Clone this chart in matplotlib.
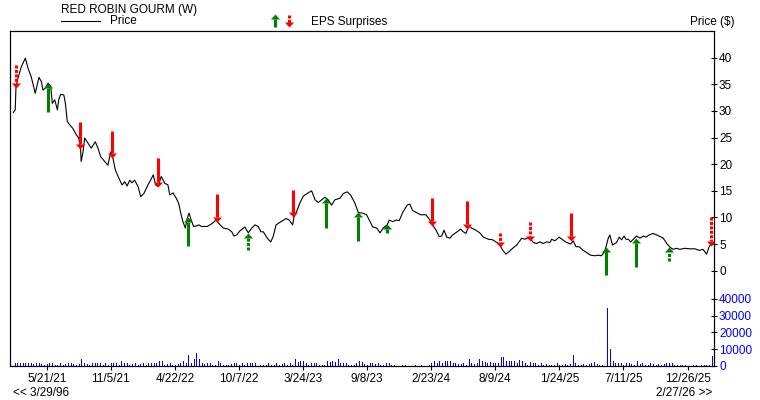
import matplotlib.pyplot as plt
import matplotlib.dates as mdates
from matplotlib.ticker import FixedLocator, FuncFormatter
import numpy as np
import pandas as pd

plt.rcParams['font.family'] = ['Liberation Sans', 'DejaVu Sans']
plt.rcParams['font.size'] = 8.5

# weekly closes, weeks counted from the first bar (Fri 2021-02-19)
start = pd.Timestamp('2021-02-19')
price_wk = [0.5, 1.2, 1.5, 2.2, 3.5, 5.0, 6.0, 7.2, 8.7, 10.1, 11.0, 11.6, 12.5, 13.5, 14.5,
            15.1, 16.0, 17.0, 17.5, 18.2, 19.4, 20.0, 20.7, 21.6, 22.8, 24.1, 25.0, 25.7, 25.9,
            26.6, 27.2, 28.5, 29.7, 31.2, 32.2, 33.2, 34.7, 35.9, 37.0, 37.8, 38.7, 40.0, 41.2,
            42.2, 43.1, 44.1, 44.9, 45.9, 47.2, 48.2, 49.4, 50.9, 51.9, 52.9, 53.8, 54.7, 55.9,
            57.2, 58.4, 59.1, 60.3, 61.5, 62.4, 63.2, 64.0, 64.9, 65.6, 66.3, 67.1, 68.0, 69.0,
            70.0, 70.9, 73.1, 74.8, 76.4, 77.9, 79.1, 81.0, 82.3, 83.1, 84.1, 85.4, 87.2, 88.5,
            89.8, 91.0, 92.2, 93.2, 94.1, 95.6, 96.9, 97.8, 98.9, 100.1, 101.4, 102.6, 103.8,
            105.1, 105.6, 106.6, 107.8, 109.1, 110.6, 112.2, 113.5, 114.7, 116.0, 117.2, 118.4,
            119.7, 120.9, 122.8, 124.1, 125.6, 126.8, 128.4, 129.7, 131.3, 132.8, 133.8, 135.1,
            136.6, 137.8, 139.0, 140.5, 141.3, 142.6, 143.8, 145.0, 146.5, 148.0, 149.0, 150.0,
            151.5, 153.0, 155.0, 156.5, 157.5, 158.8, 160.0, 160.9, 161.8, 162.8, 164.0, 165.0,
            166.7, 168.0, 169.0, 170.0, 171.1, 172.1, 173.7, 175.2, 176.5, 178.4, 180.0, 181.5,
            182.7, 183.7, 185.0, 186.2, 187.5, 189.0, 190.9, 192.1, 193.7, 195.2, 196.4, 197.7,
            198.9, 200.2, 201.5, 202.1, 203.3, 204.9, 206.2, 207.7, 209.2, 210.2, 211.2, 212.4,
            213.7, 215.2, 216.7, 218.3, 219.5, 220.8, 222.1, 223.3, 223.9, 224.9, 226.4, 227.4,
            228.3, 229.2, 229.9, 230.8, 231.7, 232.7, 233.9, 235.2, 236.4, 237.4, 238.6, 240.1,
            241.4, 242.7, 243.9, 245.2, 246.4, 247.6, 248.9, 250.1, 252.0, 253.9, 255.8, 257.4,
            258.8, 260.1, 261.1, 262.0]
price = [29.7, 30.2, 34.6, 36.1, 38.3, 39.9, 38.0, 36.4, 33.3, 36.3, 35.5, 33.9, 34.3, 35.2, 34.6,
         31.4, 32.1, 30.2, 32.1, 33.1, 33.0, 31.4, 28.0, 27.4, 26.7, 25.5, 24.9, 22.7, 20.5,
         22.3, 24.9, 23.9, 23.0, 24.2, 23.0, 21.4, 20.5, 19.8, 22.3, 21.1, 18.9, 17.4, 16.1,
         16.7, 15.9, 17.0, 16.5, 17.0, 15.8, 13.9, 14.5, 16.1, 17.0, 18.0, 16.1, 15.8, 17.7,
         16.4, 16.1, 14.2, 14.6, 13.6, 12.7, 10.8, 9.2, 8.0, 9.8, 10.8, 9.5, 8.3, 8.4,
         8.6, 8.3, 8.3, 8.8, 9.5, 8.6, 8.0, 7.8, 7.3, 6.5, 6.7, 7.5, 8.2, 7.1,
         8.0, 8.6, 8.3, 7.3, 7.3, 6.1, 5.4, 6.4, 8.6, 9.0, 9.4, 9.8, 9.5,
         8.6, 10.1, 11.1, 12.7, 14.0, 14.5, 15.0, 13.3, 12.8, 13.3, 13.8, 13.3,
         12.3, 13.3, 13.6, 14.5, 14.8, 14.2, 12.7, 10.9, 10.8, 10.5, 9.5, 8.2,
         8.0, 7.1, 8.0, 8.6, 9.5, 9.2, 9.5, 9.4, 11.1, 12.3, 12.5, 11.3,
         10.9, 10.5, 10.5, 9.5, 8.6, 7.6, 6.4, 6.5, 7.6, 6.3, 6.1, 6.7,
         7.3, 7.8, 7.3, 7.0, 8.4, 8.0, 7.6, 7.1, 6.3, 5.9, 5.8, 5.3,
         4.8, 3.9, 3.1, 3.6, 4.2, 4.8, 6.1, 5.9, 6.3, 5.3, 5.1, 5.4,
         5.1, 5.4, 5.3, 5.9, 5.6, 6.3, 5.8, 5.3, 5.0, 5.6, 4.5, 4.5,
         3.9, 3.4, 2.9, 2.8, 2.9, 2.8, 3.8, 6.1, 6.7, 4.8, 5.3, 6.3,
         5.8, 6.5, 5.9, 5.9, 5.4, 5.9, 6.5, 6.1, 6.5, 6.3, 6.7, 7.0,
         6.7, 6.4, 6.1, 5.1, 4.4, 4.0, 4.2, 4.0, 4.2, 4.1, 4.1, 3.8,
         4.0, 3.1, 4.5, 5.1]

# weekly volume, one value per week starting at week 0
volume = [0,
          1600, 2000, 1600, 2000, 1600, 1600, 1600, 1200, 1600, 1600,
          1200, 800, 1200, 2000, 1600, 800, 800, 1600, 800, 1200,
          1600, 2000, 1200, 800, 1200, 4000, 2000, 1200, 800, 1600,
          1600, 1600, 1600, 800, 1600, 800, 2000, 2000, 2000, 800,
          2800, 1600, 2000, 800, 1200, 1600, 800, 1200, 2000, 800,
          1600, 2000, 2000, 2000, 3200, 2800, 800, 1200, 1600, 800,
          800, 1200, 2000, 2800, 2000, 6300, 2000, 4000, 7500, 4000,
          2000, 1200, 2000, 1600, 800, 800, 3200, 1600, 800, 800,
          800, 1200, 1600, 1600, 800, 1600, 800, 1600, 1600, 1600,
          1600, 0, 800, 800, 800, 2000, 800, 800, 2000, 800,
          1200, 1600, 800, 1600, 800, 4400, 2400, 3200, 2800, 1600,
          800, 1600, 1600, 1600, 800, 800, 800, 3200, 2400, 3200,
          2400, 4000, 1600, 1600, 1600, 800, 800, 800, 1600, 3200,
          2400, 1200, 800, 1600, 2000, 1200, 2000, 800, 800, 1600,
          2000, 800, 800, 0, 0, 800, 800, 0, 0, 0,
          800, 0, 800, 0, 0, 800, 2000, 2800, 2000, 2800,
          2000, 2800, 2800, 2800, 1600, 2000, 1200, 1200, 1600, 800,
          4400, 2000, 1200, 1600, 4000, 2800, 2400, 2000, 2400, 2000,
          2000, 2000, 5600, 5200, 2800, 3200, 3200, 2800, 2000, 3600,
          2800, 1600, 800, 2400, 1600, 1600, 800, 2000, 800, 1200,
          800, 800, 800, 2000, 800, 800, 1200, 800, 1200, 6300,
          2000, 800, 800, 1200, 800, 1200, 1600, 2400, 1200, 800,
          800, 0, 34700, 10000, 3200, 1600, 1600, 1600, 800, 1600,
          2000, 1200, 800, 3200, 1200, 2000, 800, 800, 1600, 1200,
          800, 1200, 800, 1200, 1600, 2000, 2000, 800, 800, 800,
          800, 800, 0, 0, 800, 800, 0, 800, 800, 800,
          800, 6000]

# earnings surprises: week, arrow tail price, arrow tip price
eps_wk = [1.6, 13.5, 25.6, 37.6, 54.8, 66.0, 76.7, 88.5, 105.3, 117.5, 129.7,
          140.5, 157.3, 170.4, 182.8, 193.9, 209.4, 222.4, 233.6, 246.1, 261.6]
eps_tail = [38.6, 29.7, 28.0, 26.3, 21.2, 4.7, 14.4, 3.9, 15.2, 8.1, 5.6,
            7.1, 13.6, 13.1, 7.1, 9.2, 10.9, -0.8, 0.75, 1.9, 10.0]
eps_tip = [34.3, 35.2, 22.8, 21.1, 15.8, 10.1, 9.2, 7.1, 10.0, 13.6, 11.0,
           8.8, 8.4, 7.8, 4.5, 5.6, 5.6, 4.5, 6.1, 4.4, 4.6]
eps_dashed = [True, False, False, False, False, False, False, True, False, False, False,
              False, False, False, True, True, False, False, False, True, True]

tick_dates = ['2021-05-21', '2021-11-05', '2022-04-22', '2022-10-07', '2023-03-24',
              '2023-09-08', '2024-02-23', '2024-08-09', '2025-01-24', '2025-07-11',
              '2025-12-26']

RED = '#ff0000'
GREEN = '#008000'
DOWN_HEAD = [(-1, 1.1), (1, 1.1), (0, 0)]
UP_HEAD = [(-1, -1.1), (1, -1.1), (0, 0)]

x0 = mdates.date2num(start.to_pydatetime())
px = x0 + 7 * np.array(price_wk)
vx = x0 + 7 * np.arange(len(volume))

fig = plt.figure(figsize=(7.6, 4.0), dpi=100)
ax = fig.add_axes([10 / 760, 34 / 400, 704 / 760, 335 / 400])
vax = ax.twinx()

ax.plot(px, price, color='black', lw=0.8, zorder=3)

for w, t0, t1, dash in zip(eps_wk, eps_tail, eps_tip, eps_dashed):
    x = x0 + 7 * w
    up = t1 > t0
    col = GREEN if up else RED
    end = t1 - 0.9 if up else t1 + 0.9
    ls = (0, (1.0, 0.45)) if dash else '-'
    ax.plot([x, x], [t0, end], color=col, lw=2.2, ls=ls, solid_capstyle='butt',
            dash_capstyle='butt', zorder=4)
    ax.plot([x], [t1], marker=UP_HEAD if up else DOWN_HEAD, ms=7.2, color=col,
            mew=0, zorder=5)

vax.vlines(vx, 0, volume, color='blue', lw=0.72, antialiased=False)

ax.set_xlim(x0 - 0.75 * 7, x0 + 262.9 * 7)
ax.set_ylim(-17.9, 45.0)
vax.set_ylim(0, 199400)

ax.xaxis.set_major_locator(FixedLocator(mdates.datestr2num(tick_dates)))
ax.xaxis.set_major_formatter(FuncFormatter(
    lambda v, pos: (lambda d: f'{d.month}/{d.day}/{d.year % 100:02d}')(mdates.num2date(v))))
ax.tick_params(axis='x', direction='out', length=3, width=0.8, pad=2)

ax.yaxis.tick_right()
ax.set_yticks(np.arange(0, 45, 5))
ax.tick_params(axis='y', direction='inout', length=4, width=0.8, pad=1.6)
vax.set_yticks(np.arange(0, 40001, 10000))
vax.tick_params(axis='y', direction='inout', length=4, width=0.8, pad=1.6,
                labelcolor='blue')

for a in (ax, vax):
    for s in a.spines.values():
        s.set_linewidth(0.8)

# header and footer, drawn in pixel coordinates
top = fig.add_axes([0, 0, 1, 1], zorder=-1)
top.set_xlim(0, 760)
top.set_ylim(400, 0)
top.axis('off')
top.text(61, 10, 'RED ROBIN GOURM (W)', va='center', ha='left')
top.plot([61, 100], [21, 21], color='black', lw=0.8)
top.text(110, 21.5, 'Price', va='center', ha='left')
top.plot([275, 275], [27, 19], color=GREEN, lw=2.2, solid_capstyle='butt')
top.plot([275], [14], marker=UP_HEAD, ms=7.2, color=GREEN, mew=0)
top.plot([288.5, 288.5], [15, 22.5], color=RED, lw=2.2, ls=(0, (1.0, 0.45)),
         dash_capstyle='butt')
top.plot([288.5], [27], marker=DOWN_HEAD, ms=7.2, color=RED, mew=0)
top.text(311, 21.5, 'EPS Surprises', va='center', ha='left')
top.text(735, 21.5, 'Price ($)', va='center', ha='right')
top.text(13, 393, '<< 3/29/96', va='center', ha='left')
top.text(712, 393, '2/27/26 >>', va='center', ha='right')

fig.savefig('out.png', dpi=100)
